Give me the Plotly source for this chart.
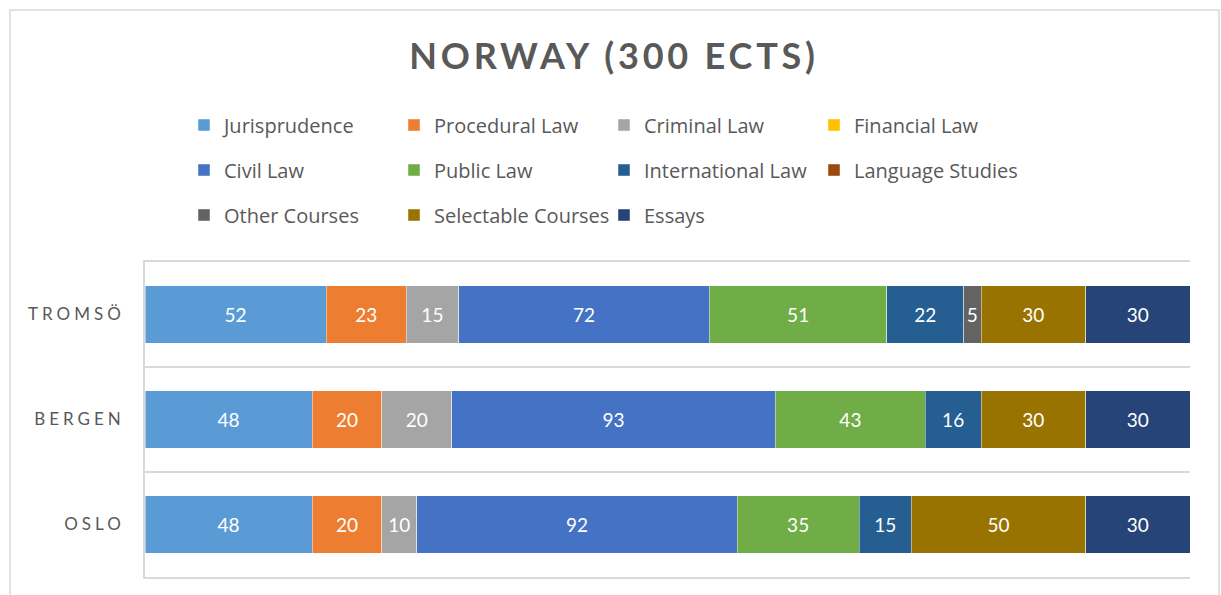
import plotly.graph_objects as go

campuses = ["OSLO", "BERGEN", "TROMSÖ"]
series_names = ["Jurisprudence", "Procedural Law", "Criminal Law", "Financial Law",
                "Civil Law", "Public Law", "International Law", "Language Studies",
                "Other Courses", "Selectable Courses", "Essays"]
jurisprudence = [48, 48, 52]
procedural_law = [20, 20, 23]
criminal_law = [10, 20, 15]
financial_law = [None, None, None]
civil_law = [92, 93, 72]
public_law = [35, 43, 51]
international_law = [15, 16, 22]
language_studies = [None, None, None]
other_courses = [None, None, 5]
selectable_courses = [50, 30, 30]
essays = [30, 30, 30]

values = [jurisprudence, procedural_law, criminal_law, financial_law, civil_law,
          public_law, international_law, language_studies, other_courses,
          selectable_courses, essays]
colors = ["#5B9BD5", "#ED7D31", "#A5A5A5", "#FFC000", "#4472C4", "#70AD47",
          "#255E91", "#9E480E", "#636363", "#997300", "#264478"]
legend_rows = ["legend", "legend", "legend", "legend",
               "legend2", "legend2", "legend2", "legend2",
               "legend3", "legend3", "legend3"]

FONT = "Lato"
LFONT = "Open Sans"
GREY = "#595959"

# pixel helpers for the plot area (left 145, right 1190, top 262, bottom 577)
def py(ypx):
    return (577 - ypx) / 315

def px(xpx):
    return (xpx - 145) / 1045

fig = go.Figure()
for name, vals, col, lg in zip(series_names, values, colors, legend_rows):
    fig.add_trace(go.Bar(
        y=campuses, x=vals, name=name, orientation="h", legend=lg,
        marker=dict(color=col, line=dict(color="rgba(255,255,255,0.6)", width=0.75)),
        texttemplate="%{x}", textposition="inside",
        insidetextanchor="middle", textangle=0,
        insidetextfont=dict(family=FONT, size=19, color="white"),
        hoverinfo="x+name",
    ))

legend_common = dict(orientation="h", x=px(184), xanchor="left", yanchor="middle",
                     entrywidth=165, entrywidthmode="pixels",
                     font=dict(family=LFONT, size=20, color=GREY),
                     traceorder="normal", itemclick=False, bgcolor="rgba(0,0,0,0)")

fig.update_layout(
    width=1221, height=595,
    barmode="stack", bargap=0.448,
    paper_bgcolor="white", plot_bgcolor="white",
    margin=dict(l=145, r=31, t=262, b=18),
    font=dict(family=FONT, color=GREY),
    uniformtext=dict(mode="show", minsize=10),
    title=dict(text="<b>NORWAY (300 ECTS)</b>", x=614/1221, xanchor="center",
               y=1 - 56/595, yanchor="middle",
               font=dict(family=FONT, size=36, color=GREY)),
    legend=dict(legend_common, y=py(125)),
    legend2=dict(legend_common, y=py(170)),
    legend3=dict(legend_common, y=py(215)),
    showlegend=True,
    shapes=[dict(type="rect", xref="paper", yref="paper",
                 x0=px(10), x1=px(1219), y0=py(610), y1=py(10),
                 line=dict(color="#D9D9D9", width=1.5), fillcolor="rgba(0,0,0,0)",
                 layer="below")],
)
fig.update_xaxes(range=[0, 300], showticklabels=False, showgrid=False,
                 zeroline=False, showline=True, mirror=True,
                 linecolor="#D9D9D9", linewidth=1.5, fixedrange=True)
fig.update_yaxes(type="category", categoryorder="array", categoryarray=campuses,
                 range=[-0.5, 2.5], tickson="boundaries", showgrid=True,
                 gridcolor="#D9D9D9", gridwidth=1.5, ticks="", ticklen=0,
                 showline=True, linecolor="#D9D9D9", linewidth=1.5,
                 tickfont=dict(family=FONT, size=17, color=GREY),
                 ticklabelstandoff=15, fixedrange=True)

post = """
document.body.style.margin='0';
function _ls(){
  document.querySelectorAll('.ytick text').forEach(function(t){t.style.letterSpacing='4px';});
  document.querySelectorAll('.gtitle').forEach(function(t){t.style.letterSpacing='3.8px';});
}
_ls();
var gd = document.getElementById('{plot_id}');
if (gd && gd.on) { gd.on('plotly_afterplot', _ls); }
"""
fig.write_html("out.html", post_script=post, config={"displayModeBar": False})
